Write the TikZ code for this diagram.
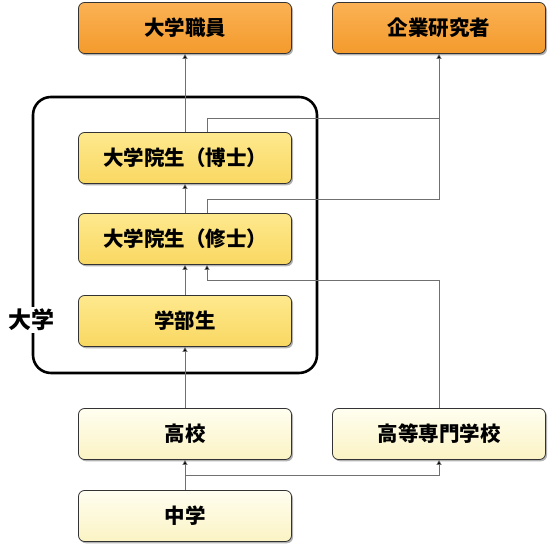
\documentclass[tikz,border=0pt]{standalone}
\usepackage{fontspec}
\newfontfamily\jpfont{Noto Sans CJK JP}
\usetikzlibrary{shadows,arrows.meta}

\definecolor{careertop}{HTML}{FBB254}
\definecolor{careerbot}{HTML}{F39A2C}
\definecolor{unitop}{HTML}{FEE98E}
\definecolor{unibot}{HTML}{F9D862}
\definecolor{schooltop}{HTML}{FFFEF0}
\definecolor{schoolbot}{HTML}{FBF3C4}
\definecolor{linkgray}{HTML}{707070}

\begin{document}
\begin{tikzpicture}[x=1pt, y=1pt,
    box/.style={draw=black!80, line width=0.8pt, rounded corners=6pt,
        minimum width=213pt, minimum height=51pt,
        font=\jpfont\bfseries\fontsize{20.5}{22}\selectfont,
        drop shadow={shadow xshift=1.5pt, shadow yshift=-1.8pt, opacity=0.6}},
    career/.style={box, top color=careertop, bottom color=careerbot},
    uni/.style={box, top color=unitop, bottom color=unibot},
    school/.style={box, top color=schooltop, bottom color=schoolbot},
    link/.style={draw=linkgray, line width=0.7pt},
    arr/.style={link, -{Triangle[length=5pt, width=5pt, fill=black]}}]
    \useasboundingbox (0,0) rectangle (549,545);

    % University frame
    \draw[line width=2.6pt, rounded corners=18pt] (33,172) rectangle (317,448);
    \node[fill=white, inner sep=2pt, font=\jpfont\bfseries\fontsize{23}{25}\selectfont] (unilabel) at (32,225) {大学};

    % Careers
    \node[career] (staff) at (185,517) {大学職員};
    \node[career] (researcher) at (439,517) {企業研究者};

    % University students
    \node[uni] (doctor) at (185,387) {大学院生（博士）};
    \node[uni] (master) at (185,306) {大学院生（修士）};
    \node[uni] (undergrad) at (185,224) {学部生};

    % Schools
    \node[school] (highschool) at (185,111) {高校};
    \node[school] (kosen) at (439,111) {高等専門学校};
    \node[school] (junior) at (185,29) {中学};

    % Main path
    \draw[arr] (junior.north) -- (highschool.south);
    \draw[arr] (highschool.north) -- (undergrad.south);
    \draw[arr] (undergrad.north) -- (master.south);
    \draw[arr] (master.north) -- (doctor.south);
    \draw[arr] (doctor.north) -- (staff.south);

    % Side paths
    \coordinate (jk) at (185,70);
    \coordinate (km) at (207,265);
    \coordinate (dr) at (439,427);
    \draw[arr] (jk) -| (kosen.south);
    \draw[arr] (kosen.north) |- (km) -- ([xshift=22pt]master.south);
    \draw[link] ([xshift=22pt]doctor.north) |- (dr);
    \draw[link] ([xshift=22pt]master.north) |- (439,346) -- (dr);
    \draw[arr] (dr) -- (researcher.south);
\end{tikzpicture}
\end{document}
